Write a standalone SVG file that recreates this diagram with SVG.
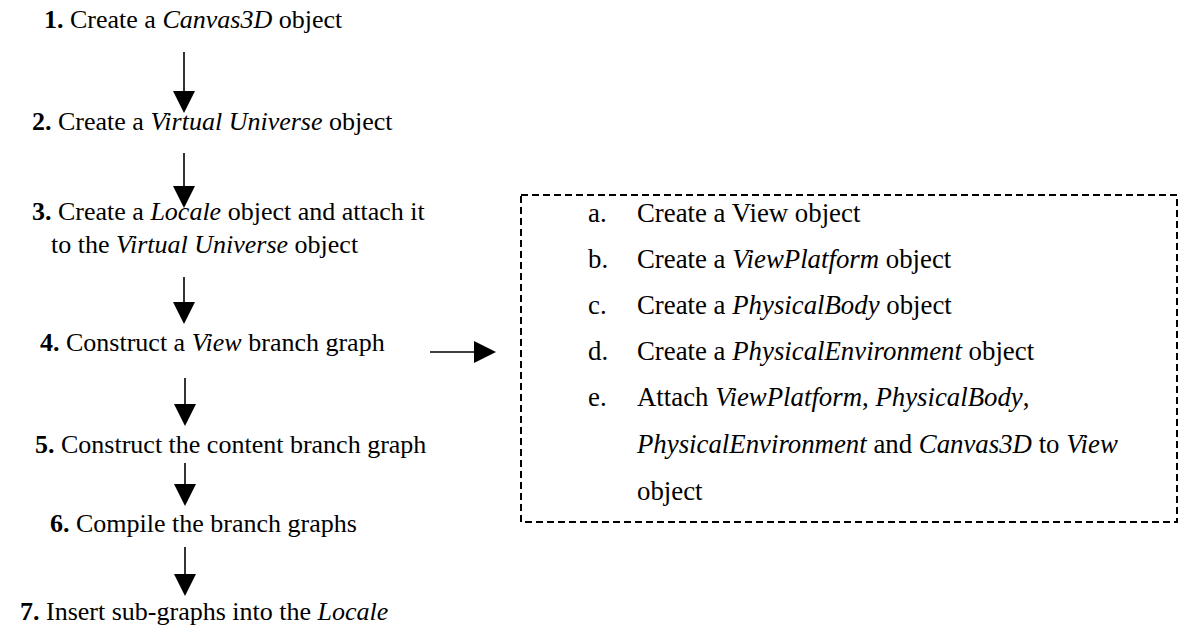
<svg xmlns="http://www.w3.org/2000/svg" width="1180" height="625" viewBox="0 0 1180 625">
  <style>
    text { font-family: "Liberation Serif", "Times New Roman", serif; font-size: 26px; fill: #000; }
    .sub text { font-size: 26.8px; }
    .num { font-weight: bold; }
    .it { font-style: italic; }
    .link { stroke: #000; stroke-width: 1.6; fill: none; marker-end: url(#head); }
    .frame { fill: none; stroke: #000; stroke-width: 2; stroke-dasharray: 7 4; }
  </style>
  <defs>
    <marker id="head" viewBox="0 0 22 22" markerWidth="22" markerHeight="22" refX="0" refY="11" orient="auto" markerUnits="userSpaceOnUse">
      <path d="M0,0 L22,11 L0,22 Z" fill="#000"/>
    </marker>
  </defs>
  <rect width="1180" height="625" fill="#fff"/>

  <!-- main sequence of steps -->
  <g id="step1"><text x="44" y="28"><tspan class="num">1.</tspan> Create a <tspan class="it">Canvas3D</tspan> object</text></g>
  <g id="step2"><text x="32" y="130"><tspan class="num">2.</tspan> Create a <tspan class="it">Virtual Universe</tspan> object</text></g>
  <g id="step3">
    <text x="32" y="220"><tspan class="num">3.</tspan> Create a <tspan class="it">Locale</tspan> object and attach it</text>
    <text x="51" y="253">to the <tspan class="it">Virtual Universe</tspan> object</text>
  </g>
  <g id="step4"><text x="40" y="351"><tspan class="num">4.</tspan> Construct a <tspan class="it">View</tspan> branch graph</text></g>
  <g id="step5"><text x="35" y="453"><tspan class="num">5.</tspan> Construct the content branch graph</text></g>
  <g id="step6"><text x="50" y="532"><tspan class="num">6.</tspan> Compile the branch graphs</text></g>
  <g id="step7"><text x="20" y="620"><tspan class="num">7.</tspan> Insert sub-graphs into the <tspan class="it">Locale</tspan></text></g>

  <!-- view branch sub-steps -->
  <g id="viewBranch" class="sub">
    <rect class="frame" x="521" y="195" width="656" height="327"/>
    <text x="588" y="222">a.</text>
    <text x="637" y="222">Create a View object</text>
    <text x="588" y="268">b.</text>
    <text x="637" y="268">Create a <tspan class="it">ViewPlatform</tspan> object</text>
    <text x="588" y="314">c.</text>
    <text x="637" y="314">Create a <tspan class="it">PhysicalBody</tspan> object</text>
    <text x="588" y="360">d.</text>
    <text x="637" y="360">Create a <tspan class="it">PhysicalEnvironment</tspan> object</text>
    <text x="588" y="406">e.</text>
    <text x="637" y="406">Attach <tspan class="it">ViewPlatform</tspan>, <tspan class="it">PhysicalBody</tspan>,</text>
    <text x="637" y="453"><tspan class="it">PhysicalEnvironment</tspan> and <tspan class="it">Canvas3D</tspan> to <tspan class="it">View</tspan></text>
    <text x="637" y="500">object</text>
  </g>

  <!-- connectors -->
  <g id="connectors">
    <line class="link" x1="184" y1="52" x2="184" y2="91"/>
    <line class="link" x1="184" y1="153" x2="184" y2="186"/>
    <line class="link" x1="184" y1="277" x2="184" y2="302"/>
    <line class="link" x1="185" y1="378" x2="185" y2="404"/>
    <line class="link" x1="185" y1="463" x2="185" y2="484"/>
    <line class="link" x1="185" y1="547" x2="185" y2="574"/>
    <line class="link" x1="430" y1="352" x2="474" y2="352"/>
  </g>
</svg>
